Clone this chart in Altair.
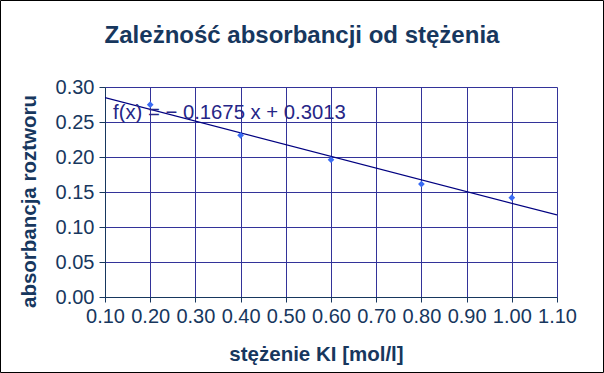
import altair as alt
import pandas as pd

# data
conc = [0.2, 0.4, 0.6, 0.8, 1.0]
absorb = [0.2747, 0.2309, 0.1961, 0.1613, 0.1419]
x_ticks = [0.1, 0.2, 0.3, 0.4, 0.5, 0.6, 0.7, 0.8, 0.9, 1.0, 1.1]
y_ticks = [0.0, 0.05, 0.10, 0.15, 0.20, 0.25, 0.30]
title_text = ["Zależność absorbancji od stężenia"]
equation_text = ["f(x) = − 0.1675 x + 0.3013"]

df = pd.DataFrame({"x": conc, "y": absorb})

FONT = "Liberation Sans"
TXT = "#17375e"
GRID = "#333399"

xs = alt.Scale(domain=[0.1, 1.1], nice=False, zero=False)
ys = alt.Scale(domain=[0, 0.3], nice=False, zero=False)

x_axis = alt.Axis(
    values=x_ticks, format=".2f", grid=True, gridColor=GRID, gridWidth=1,
    domainColor=TXT, tickColor=TXT, tickSize=5, labelPadding=4,
    labelFont=FONT, labelFontSize=20, labelColor=TXT, labelOverlap=False,
    title="stężenie KI [mol/l]", titleFont=FONT, titleFontSize=20.5,
    titleFontWeight="bold", titleColor=TXT, titleX=211, titleY=63,
    titleBaseline="alphabetic", titleAlign="center", labelFlush=False,
)
y_axis = alt.Axis(
    values=y_ticks, format=".2f", grid=True, gridColor=GRID, gridWidth=1,
    domainColor=TXT, tickColor=TXT, tickSize=6, labelPadding=5,
    labelFont=FONT, labelFontSize=20, labelColor=TXT, labelOverlap=False,
    title="absorbancja roztworu", titleFont=FONT, titleFontSize=20.5,
    titleFontWeight="bold", titleColor=TXT, titleX=-76, titleY=114,
    titleAngle=-90, titleBaseline="middle", titleAlign="center", labelFlush=False,
)

base = alt.Chart(df)

trend = base.transform_regression("x", "y", extent=[0.1, 1.1]).mark_line(
    color="#000080", strokeWidth=1.2, clip=True
).encode(x=alt.X("x:Q", scale=xs, axis=x_axis), y=alt.Y("y:Q", scale=ys, axis=y_axis))

points = base.mark_point(shape="diamond", filled=True, size=45, color="#3a6cf4", opacity=1).encode(
    x=alt.X("x:Q", scale=xs, axis=x_axis), y=alt.Y("y:Q", scale=ys, axis=y_axis)
)

one = alt.Data(values=[{"k": 0}])

eq = alt.Chart(pd.DataFrame({"t": equation_text})).mark_text(
    align="left", baseline="alphabetic", font=FONT, fontSize=20.3, color="#262687"
).encode(x=alt.value(8), y=alt.value(32), text="t:N")

title = alt.Chart(pd.DataFrame({"t": title_text})).mark_text(
    align="center", baseline="alphabetic", font=FONT, fontSize=24, fontWeight="bold", color=TXT
).encode(x=alt.value(197), y=alt.value(-44), text="t:N")

border = alt.Chart(one).mark_rect(fill=None, stroke="black", strokeWidth=1).encode(
    x=alt.value(-104.5), x2=alt.value(498.5), y=alt.value(-86.5), y2=alt.value(285.5)
)

chart = alt.layer(trend, points, eq, title, border).properties(
    width=452, height=210,
    autosize=alt.AutoSizeParams(type="none"),
    padding={"left": 105, "top": 87, "right": 47, "bottom": 76},
    background="white",
).configure_view(stroke=None)

chart.save("out.html", embed_options={"renderer": "svg", "actions": False})
